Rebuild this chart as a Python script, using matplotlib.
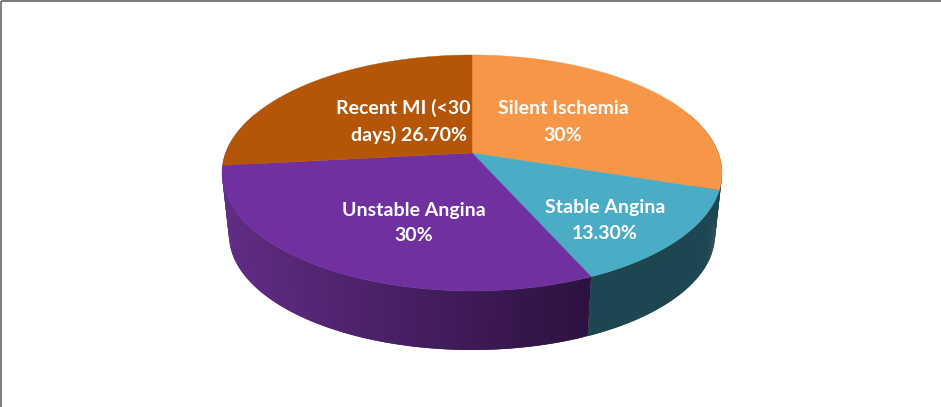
# 3D looking pie, perspective done by hand since matplotlib pie is flat
import numpy as np
import matplotlib
matplotlib.use("Agg")
import matplotlib.pyplot as plt
from matplotlib.colors import to_rgb

## Data ##
names = ["Silent Ischemia", "Stable Angina", "Unstable Angina", "Recent MI"]
shares = [30, 13.3, 30, 26.7]
label_lines = ["Silent Ischemia", "30%", "Stable Angina", "13.30%",
               "Unstable Angina", "30%", "Recent MI (<30", "days) 26.70%"]
top_colors = ["#F79646", "#4BACC6", "#7030A0", "#B45508"]
wall_left = ["#1E4650", "#1E4650", "#622C85", "#622C85"]
wall_right = ["#1E4650", "#1E4650", "#2C1240", "#622C85"]
line_xy = [(563, 114), (563, 141), (605, 213), (605, 239),
           (414, 216), (414, 241), (403, 114), (409, 141)]

## Shape ##
k = 0.17
half_w = 1 / np.sqrt(1 - k ** 2)
y_shift = k / (1 - k ** 2)
half_h = 1 / (1 - k ** 2)

def project(theta, r=1.0, cy=173.0, rx=250.0, ry=118.0):
    X = r * np.sin(theta)
    Y = r * np.cos(theta)
    f = 1 / (1 + k * Y)
    return 472 + X * f / half_w * rx, cy - (Y * f + y_shift) / half_h * ry

def bottom_rim(theta):
    return project(theta, cy=235.0, rx=243.0, ry=115.0)

## Drawing ##
fig = plt.figure(figsize=(9.41, 4.07), dpi=100)
ax = fig.add_axes([0, 0, 1, 1])
ax.set_xlim(0, 941)
ax.set_ylim(407, 0)
ax.axis("off")

edges = np.radians(np.concatenate([[0], np.cumsum(shares)]) * 3.6)

# side wall first, thin overlapping strips so the shading runs along x without seams
for i in range(len(shares)):
    steps = np.linspace(edges[i], edges[i + 1], 90)
    left = np.array(to_rgb(wall_left[i]))
    right = np.array(to_rgb(wall_right[i]))
    xs = project(steps)[0]
    for j in range(len(steps) - 1):
        a, b = steps[j], steps[min(j + 2, len(steps) - 1)]
        if np.cos((a + b) / 2) > 0.35:
            continue
        t = (xs[j] - xs.min()) / max(xs.max() - xs.min(), 1)
        color = left + (right - left) * t
        x1, y1 = project(np.array([a, b]))
        x2, y2 = bottom_rim(np.array([b, a]))
        ax.fill(np.r_[x1, x2], np.r_[y1, y2], color=tuple(color), lw=0, zorder=2)

# top face
cx, cy = project(0.0, r=0.0)
for i in range(len(shares)):
    steps = np.linspace(edges[i], edges[i + 1], 200)
    x, y = project(steps)
    ax.fill(np.r_[cx, x], np.r_[cy, y], color=top_colors[i], lw=0.3, zorder=3)

for text, (tx, ty) in zip(label_lines, line_xy):
    ax.text(tx, ty, text, color="white", ha="center", va="baseline", fontsize=14,
            fontweight="bold", family="Lato", zorder=4)

# frame, only left and top show
ax.plot([1.5, 1.5], [407, 0.8], color="#7F7F7F", lw=1.5, zorder=5, solid_capstyle="butt")
ax.plot([1.5, 941], [0.8, 0.8], color="#7F7F7F", lw=1.5, zorder=5, solid_capstyle="butt")

fig.savefig("out.png", dpi=100)
plt.close(fig)
